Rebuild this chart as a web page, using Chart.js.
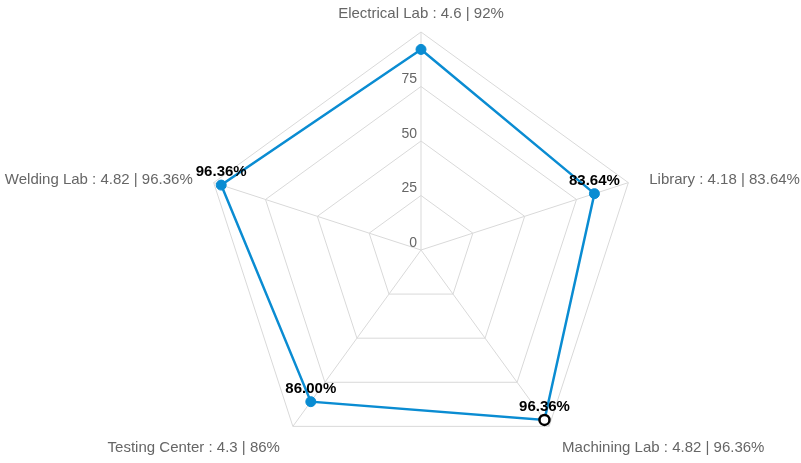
<!DOCTYPE html>
<html>
<head>
<meta charset="utf-8">
<script src="https://cdn.jsdelivr.net/npm/chart.js@4.4.1/dist/chart.umd.min.js"></script>
<style>
  html, body { margin: 0; padding: 0; background: #fff; overflow: hidden; }
  #wrap { width: 801px; height: 468px; }
</style>
</head>
<body>
<div id="wrap"><canvas id="radarChart"></canvas></div>
<script>
const labs = ['Electrical Lab', 'Library', 'Machining Lab', 'Testing Center', 'Welding Lab'];
const scores = [4.6, 4.18, 4.82, 4.3, 4.82];
const percents = [92, 83.64, 96.36, 86, 96.36];
const tickValues = [0, 25, 50, 75];
// which points carry a value label (Electrical Lab has none in the picture)
const showValueLabel = [false, true, true, true, true];
const activeIndex = 2;

const lineColor = '#0a8cd2';
const fontFamily = '"Liberation Sans", Arial, sans-serif';

const axisNames = labs.map((name, i) => `${name} : ${scores[i]} | ${percents[i]}%`);

const extraLabels = {
    id: 'extraLabels',
    afterDatasetsDraw(chart) {
        const ctx = chart.ctx;
        const scale = chart.scales.r;
        const r = scale.drawingArea;

        // axis names around the web
        ctx.save();
        ctx.font = '15px ' + fontFamily;
        ctx.fillStyle = '#666';
        ctx.textBaseline = 'middle';
        axisNames.forEach((txt, i) => {
            const p = scale.getPointPosition(i, r + 22);
            const dx = p.x - scale.xCenter;
            ctx.textAlign = Math.abs(dx) < 2 ? 'center' : (dx > 0 ? 'left' : 'right');
            ctx.fillText(txt, p.x, p.y + 4);
        });
        ctx.restore();

        // tick labels, drawn left of the vertical axis
        ctx.save();
        ctx.font = '14px ' + fontFamily;
        ctx.fillStyle = '#666';
        ctx.textAlign = 'right';
        ctx.textBaseline = 'middle';
        tickValues.forEach((v) => {
            const d = scale.getDistanceFromCenterForValue(v);
            ctx.fillText(String(v), scale.xCenter - 4, scale.yCenter - d - 7);
        });
        ctx.restore();

        // value labels above the points
        const meta = chart.getDatasetMeta(0);
        ctx.save();
        ctx.font = 'bold 15px ' + fontFamily;
        ctx.fillStyle = '#000';
        ctx.textAlign = 'center';
        ctx.textBaseline = 'middle';
        meta.data.forEach((pt, i) => {
            if (!showValueLabel[i]) return;
            ctx.fillText(percents[i].toFixed(2) + '%', pt.x, pt.y - 13);
        });
        ctx.restore();
    }
};

const ctx = document.getElementById('radarChart').getContext('2d');
new Chart(ctx, {
    type: 'radar',
    data: {
        labels: axisNames,
        datasets: [{
            label: 'Percentage',
            data: percents,
            borderColor: lineColor,
            borderWidth: 2.5,
            fill: false,
            pointRadius: 5,
            pointBackgroundColor: percents.map((_, i) => i === activeIndex ? '#fff' : lineColor),
            pointBorderColor: percents.map((_, i) => i === activeIndex ? '#000' : lineColor),
            pointBorderWidth: percents.map((_, i) => i === activeIndex ? 2.5 : 1),
        }],
    },
    options: {
        responsive: true,
        maintainAspectRatio: false,
        animation: false,
        layout: { autoPadding: false, padding: { left: 42, right: 0, top: 32, bottom: 0 } },
        plugins: {
            legend: { display: false },
            tooltip: { enabled: false },
        },
        scales: {
            r: {
                min: 0,
                max: 100,
                ticks: { display: false, stepSize: 25 },
                grid: { color: '#d9d9d9', lineWidth: 1 },
                angleLines: { color: '#d9d9d9', lineWidth: 1 },
                pointLabels: { display: false },
            },
        },
    },
    plugins: [extraLabels],
});
</script>
</body>
</html>
